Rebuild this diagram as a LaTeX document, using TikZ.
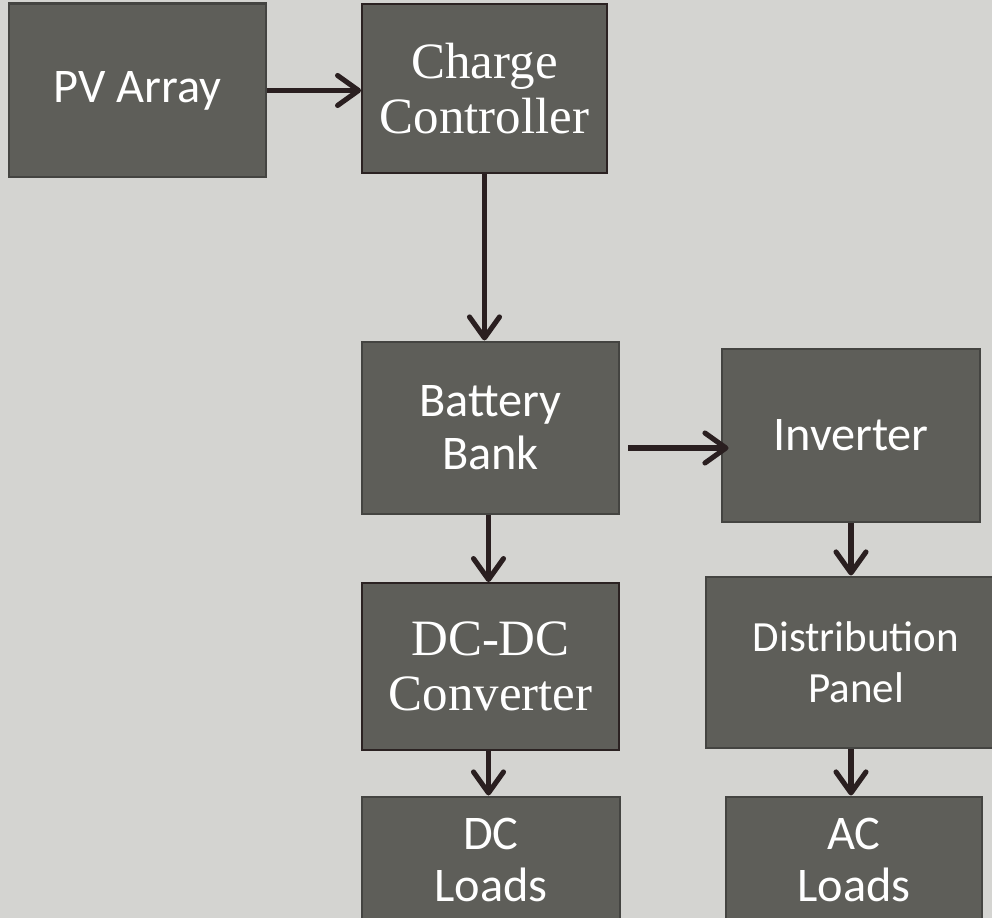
\documentclass[tikz,border=0pt]{standalone}
\usepackage{fontspec}
\newfontfamily\boxsans{Carlito}
\newfontfamily\boxserif{Liberation Serif}
\usetikzlibrary{arrows.meta,calc,positioning}
\definecolor{canvas}{HTML}{D4D4D1}
\definecolor{boxfill}{HTML}{5E5E59}
\definecolor{boxedge}{HTML}{444441}
\definecolor{darkedge}{HTML}{2B2222}
\definecolor{flow}{HTML}{2A1F20}
\tikzset{>={Straight Barb[length=0.42cm,width=0.6cm,round]},
  every node/.style={text=white,align=center},
  block/.style={fill=boxfill,draw=boxedge,line width=1.7pt,inner sep=0pt,
    font=\boxsans\fontsize{27.5}{30}\selectfont},
  serifblock/.style={block,draw=darkedge,line width=1pt,
    font=\boxserif\fontsize{29}{31}\selectfont},
  flowline/.style={->,draw=flow,line width=2.9pt}}

\begin{document}
\begin{tikzpicture}[x=0.02cm,y=-0.02cm]
% pixel grid of the slide: 992 x 918, y grows downwards
\clip (0,0) rectangle (992,918);
\fill[canvas] (0,0) rectangle (992,918);
\node[block,minimum width=257*0.02cm,minimum height=173*0.02cm] (pv) at (137.5,90.5) {PV Array};
\node[serifblock,minimum width=245*0.02cm,minimum height=169*0.02cm] (cc) at (484.5,88.5) {Charge\\Controller};
\node[block,minimum width=257*0.02cm,minimum height=172*0.02cm] (bb) at (490.5,428) {Battery\\Bank};
\node[block,minimum width=258*0.02cm,minimum height=173*0.02cm] (inv) at (851,435.5) {Inverter};
\node[serifblock,minimum width=257*0.02cm,minimum height=167*0.02cm] (dcdc) at (490.5,666.5) {DC-DC\\Converter};
\node[block,minimum width=300*0.02cm,minimum height=171*0.02cm,
  font=\boxsans\fontsize{24.5}{29}\selectfont] (dp) at (856,662.5) {Distribution\\Panel};
\node[block,minimum width=258*0.02cm,minimum height=126*0.02cm] (dcl) at (491,860) {DC\\Loads};
\node[block,minimum width=256*0.02cm,minimum height=126*0.02cm] (acl) at (854,860) {AC\\Loads};
% power flow
\draw[flowline] (pv.east) -- (pv.east -| cc.west);
\draw[flowline] (cc.south) -- (cc.south |- bb.north);
\draw[flowline] ([shift={(8,20)}]bb.east) -- ([shift={(8,20)}]bb.east -| inv.west);
\draw[flowline] ([xshift=-2*0.02cm]bb.south) -- ([xshift=-2*0.02cm]bb.south |- dcdc.north);
\draw[flowline] (inv.south) -- (inv.south |- dp.north);
\draw[flowline] ([xshift=-2*0.02cm]dcdc.south) -- ([xshift=-2*0.02cm]dcdc.south |- dcl.north);
\draw[flowline] ([xshift=-5*0.02cm]dp.south) -- ([xshift=-5*0.02cm]dp.south |- acl.north);
\end{tikzpicture}
\end{document}
